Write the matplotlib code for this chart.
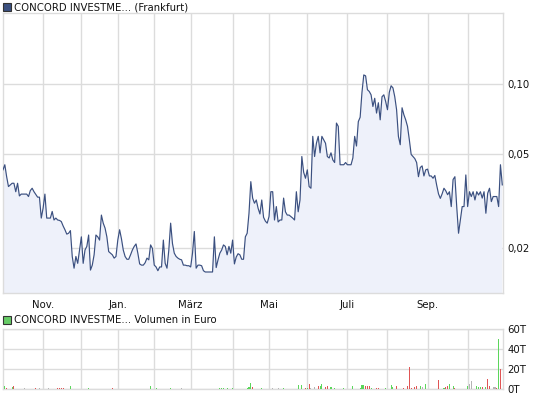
import numpy as np
import pandas as pd
import matplotlib
matplotlib.use("Agg")
import matplotlib.pyplot as plt
from matplotlib.ticker import FixedLocator, NullLocator, NullFormatter
from matplotlib.patches import Rectangle

# ---------------- data ----------------
holidays = ["2009-12-24", "2009-12-25", "2009-12-31", "2010-01-01",
            "2010-04-02", "2010-04-05"]
start_date = "2009-10-01"
end_date = "2010-10-28"

prices = [
    0.0430, 0.0452, 0.0402, 0.0365, 0.0371, 0.0377, 0.0377, 0.0347, 0.0377, 0.0333,
    0.0339, 0.0339, 0.0339, 0.0339, 0.0331, 0.0351, 0.0359, 0.0347, 0.0338, 0.0329,
    0.0329, 0.0268, 0.0295, 0.0339, 0.0268, 0.0268, 0.0268, 0.0286, 0.0263, 0.0268,
    0.0263, 0.0262, 0.0259, 0.0248, 0.0239, 0.0229, 0.0231, 0.0237, 0.0184, 0.0164,
    0.0184, 0.0172, 0.0196, 0.0223, 0.0172, 0.0196, 0.0203, 0.0227, 0.0161, 0.0169,
    0.0187, 0.0227, 0.0223, 0.0216, 0.0276, 0.0255, 0.0243, 0.0223, 0.0193, 0.0190,
    0.0187, 0.0181, 0.0184, 0.0216, 0.0239, 0.0219, 0.0196, 0.0184, 0.0179, 0.0179,
    0.0187, 0.0196, 0.0203, 0.0208, 0.0190, 0.0171, 0.0169, 0.0169, 0.0173, 0.0181,
    0.0178, 0.0206, 0.0199, 0.0169, 0.0166, 0.0160, 0.0166, 0.0166, 0.0216, 0.0172,
    0.0164, 0.0196, 0.0255, 0.0209, 0.0190, 0.0184, 0.0181, 0.0179, 0.0178, 0.0169,
    0.0169, 0.0168, 0.0168, 0.0166, 0.0190, 0.0235, 0.0164, 0.0169, 0.0169, 0.0168,
    0.0160, 0.0158, 0.0158, 0.0158, 0.0158, 0.0158, 0.0223, 0.0165, 0.0178, 0.0190,
    0.0196, 0.0206, 0.0203, 0.0187, 0.0203, 0.0190, 0.0216, 0.0171, 0.0183, 0.0189,
    0.0187, 0.0179, 0.0179, 0.0223, 0.0231, 0.0281, 0.0383, 0.0326, 0.0310, 0.0320,
    0.0295, 0.0279, 0.0320, 0.0270, 0.0260, 0.0255, 0.0272, 0.0347, 0.0347, 0.0263,
    0.0300, 0.0258, 0.0263, 0.0263, 0.0326, 0.0285, 0.0276, 0.0276, 0.0272, 0.0268,
    0.0263, 0.0347, 0.0285, 0.0320, 0.0490, 0.0420, 0.0396, 0.0430, 0.0365, 0.0359,
    0.0597, 0.0490, 0.0558, 0.0597, 0.0508, 0.0597, 0.0577, 0.0558, 0.0490, 0.0483,
    0.0508, 0.0474, 0.0462, 0.0680, 0.0658, 0.0452, 0.0452, 0.0452, 0.0462, 0.0452,
    0.0452, 0.0452, 0.0483, 0.0597, 0.0543, 0.0690, 0.0720, 0.0919, 0.1090, 0.1080,
    0.0943, 0.0927, 0.0897, 0.0800, 0.0867, 0.0750, 0.0830, 0.0702, 0.0880, 0.0897,
    0.0840, 0.0775, 0.0919, 0.0980, 0.0960, 0.0880, 0.0775, 0.0597, 0.0550, 0.0790,
    0.0738, 0.0702, 0.0658, 0.0577, 0.0500, 0.0490, 0.0480, 0.0462, 0.0402, 0.0440,
    0.0447, 0.0405, 0.0430, 0.0433, 0.0405, 0.0405, 0.0396, 0.0407, 0.0370, 0.0340,
    0.0325, 0.0340, 0.0359, 0.0350, 0.0337, 0.0347, 0.0300, 0.0391, 0.0402, 0.0300,
    0.0231, 0.0263, 0.0300, 0.0300, 0.0409, 0.0300, 0.0347, 0.0331, 0.0347, 0.0320,
    0.0347, 0.0336, 0.0347, 0.0326, 0.0347, 0.0281, 0.0342, 0.0359, 0.0315, 0.0331,
    0.0331, 0.0331, 0.0300, 0.0452, 0.0371,
]

# volume (thousand EUR) on trading-day index, with direction of the day
vol_day = [1, 2, 5, 6, 12, 18, 20, 25, 30, 31, 32, 33, 37, 47, 60, 81, 84, 92, 98,
           119, 120, 121, 123, 126, 134, 135, 136, 137, 142, 148, 151, 154, 162, 164,
           166, 167, 168, 169, 171, 173, 174, 175, 177, 178, 180, 182, 187, 192, 196,
           197, 198, 199, 200, 201, 202, 205, 206, 210, 213, 214, 216, 220, 222, 223,
           224, 226, 227, 229, 230, 232, 239, 242, 243, 244, 245, 247, 248, 255, 256,
           257, 260, 261, 262, 263, 265, 266, 267, 269, 270, 271, 272, 273]
vol_value = [3, 1, 2, 3, 1, 1, 1, 1, 1, 1, 1, 1, 3, 1, 1, 3, 1, 1, 1,
             1, 1, 1, 1, 1, 1, 2, 6, 2, 1, 1, 1, 1, 4, 4,
             1, 1, 5, 1, 2, 3, 3, 5, 2, 3, 2, 1, 1, 3, 1,
             4, 4, 3, 3, 3, 1, 1, 1, 1, 4, 2, 3, 1, 3, 22,
             1, 2, 3, 3, 2, 5, 9, 1, 2, 3, 5, 3, 1, 3, 5,
             8, 3, 2, 2, 2, 2, 10, 3, 2, 2, 1, 50, 20]
vol_dir = ["u", "d", "u", "d", "n", "d", "n", "n", "d", "d", "d", "d", "u", "u", "d", "u", "u", "u", "n",
           "u", "u", "u", "u", "u", "u", "u", "u", "d", "u", "n", "n", "u", "u", "u",
           "d", "u", "d", "n", "n", "d", "u", "u", "d", "d", "u", "u", "u", "u", "u",
           "u", "u", "d", "d", "d", "u", "d", "d", "u", "u", "u", "d", "d", "d", "d",
           "d", "d", "d", "u", "n", "u", "d", "u", "d", "d", "u", "u", "d", "u", "n",
           "n", "u", "u", "u", "d", "u", "d", "d", "n", "n", "d", "u", "d"]

month_names = {11: "Nov.", 1: "Jan.", 3: "März", 5: "Mai", 7: "Juli", 9: "Sep."}
price_ticks = [0.02, 0.05, 0.10]
price_tick_labels = ["0,02", "0,05", "0,10"]
vol_ticks = [0, 20, 40, 60]
vol_tick_labels = ["0T", "20T", "40T", "60T"]

# ---------------- figure ----------------
dates = pd.bdate_range(start_date, end_date, freq="C", holidays=holidays)
n = len(prices)
dates = dates[:n]
x = np.arange(n)

month_idx = [i for i in range(1, len(dates)) if dates[i].month != dates[i - 1].month]
month_lbl = [month_names.get(dates[i].month, "") for i in month_idx]

W, H = 545, 398
fig = plt.figure(figsize=(W / 100, H / 100), dpi=100)
fig.patch.set_facecolor("white")

grid_c = "#dcdcdc"
line_c = "#3b5080"
fill_c = "#eef1fa"
FS = 7.3
font = dict(family="DejaVu Sans", fontsize=FS, color="#111111")

def px_axes(l, t, r, b):
    return fig.add_axes([l / W, 1 - b / H, (r - l) / W, (b - t) / H])

ax = px_axes(3, 13, 503, 293)
ax.set_yscale("log")
ax.set_ylim(0.01286, 0.2)
ax.set_xlim(0, n - 0.6)
ax.fill_between(x, prices, 0.001, color=fill_c, lw=0, zorder=1)
ax.plot(x, prices, color=line_c, lw=0.85, zorder=3)

def style(a):
    for s in a.spines.values():
        s.set_color(grid_c)
        s.set_linewidth(1.0)
    a.xaxis.set_major_locator(FixedLocator(month_idx))
    a.grid(True, axis="both", color=grid_c, lw=1.0, zorder=0)
    a.set_axisbelow(True)
    a.yaxis.tick_right()
    a.tick_params(axis="both", length=0, labelsize=FS, labelcolor="#111111", pad=3)

style(ax)
ax.yaxis.set_minor_locator(NullLocator())
ax.yaxis.set_minor_formatter(NullFormatter())
ax.set_yticks(price_ticks)
ax.set_yticklabels(price_tick_labels)
ax.set_xticklabels(month_lbl)
ax.tick_params(axis="x", pad=5)

# volume panel
av = px_axes(3, 329, 503, 389)
av.set_ylim(0, 60)
av.set_xlim(0, n - 0.6)
cmap = {"u": "#5cd65c", "d": "#e05555", "n": "#b4b4b4"}
av.bar(vol_day, vol_value, width=0.6, color=[cmap[d] for d in vol_dir], zorder=3, lw=0)
style(av)
av.set_xticklabels([])
av.set_yticks(vol_ticks)
av.set_yticklabels(vol_tick_labels)
av.tick_params(axis="y", pad=3)

# legends / titles
def legend_title(ypx, face, text):
    fig.patches.append(Rectangle((3 / W, 1 - (ypx + 4) / H), 8 / W, 8 / H,
                                 transform=fig.transFigure, facecolor=face,
                                 edgecolor="#333333", lw=0.8))
    fig.text(14 / W, 1 - ypx / H, text, va="center", ha="left", **font)

legend_title(7, "#3b5080", "CONCORD INVESTME... (Frankfurt)")
legend_title(320, "#66cc66", "CONCORD INVESTME... Volumen in Euro")

fig.savefig("out.png", dpi=100)
